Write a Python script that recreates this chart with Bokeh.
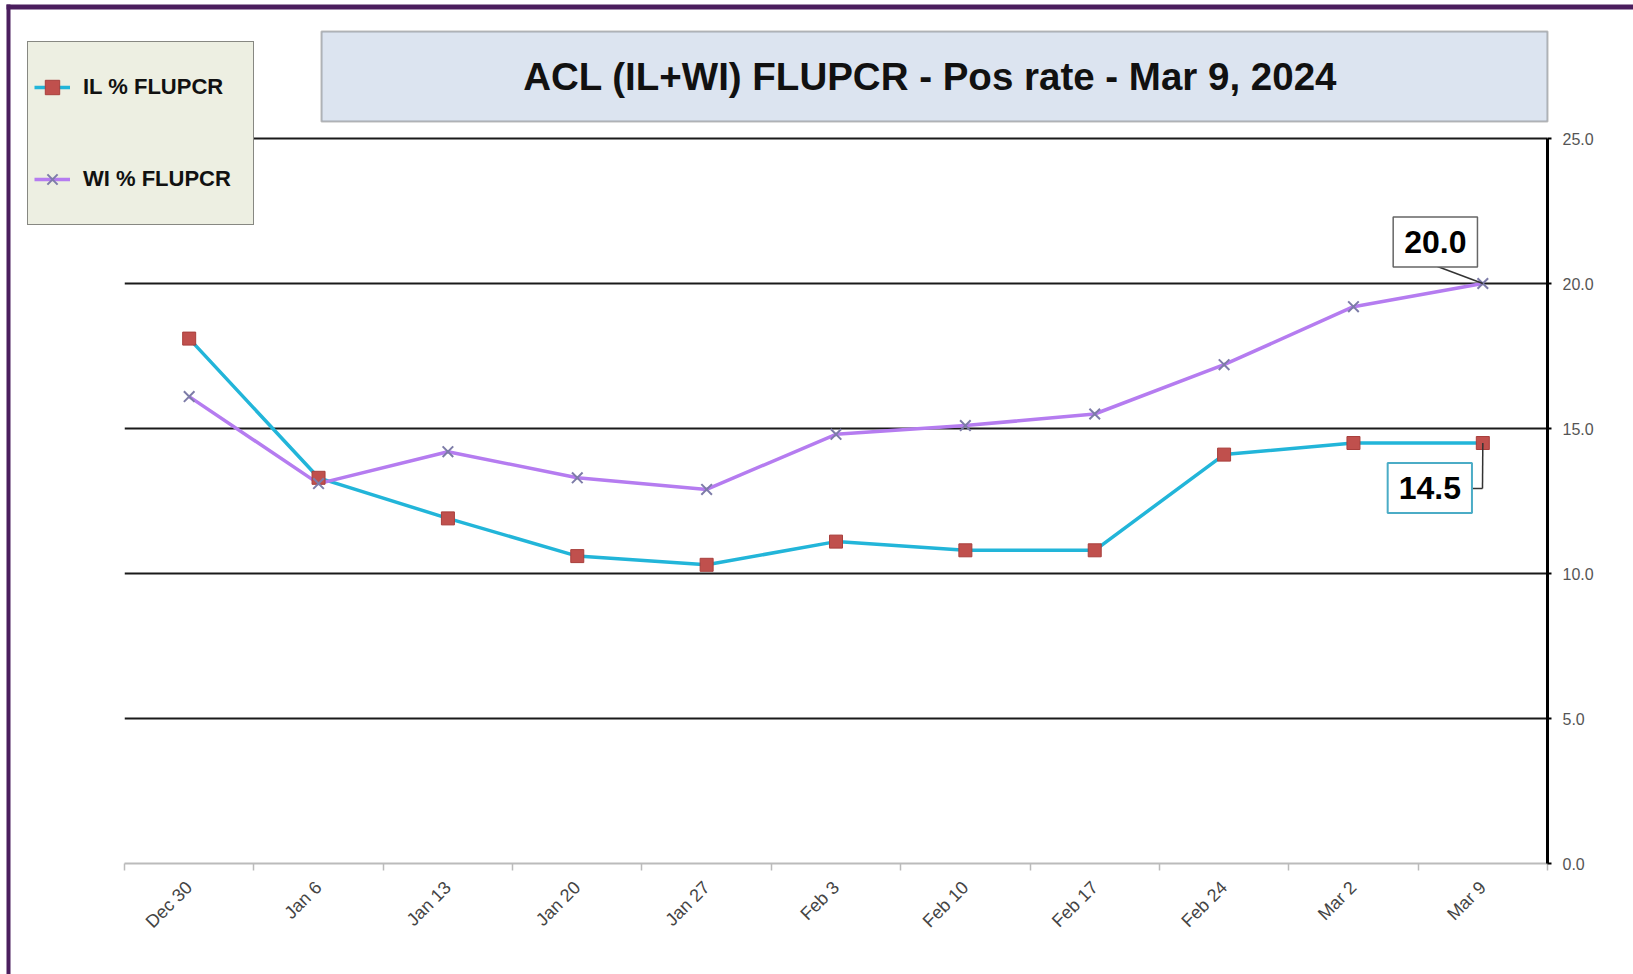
import math
from bokeh.plotting import figure
from bokeh.models import (FixedTicker, PrintfTickFormatter, Legend, LegendItem,
                          BoxAnnotation, Label, Arrow)
from bokeh.embed import file_html
from bokeh.resources import INLINE

# ---------------- data ----------------
categories = ["Dec 30", "Jan 6", "Jan 13", "Jan 20", "Jan 27", "Feb 3",
              "Feb 10", "Feb 17", "Feb 24", "Mar 2", "Mar 9"]
il_pos = [18.1, 13.3, 11.9, 10.6, 10.3, 11.1, 10.8, 10.8, 14.1, 14.5, 14.5]
wi_pos = [16.1, 13.1, 14.2, 13.3, 12.9, 14.8, 15.1, 15.5, 17.2, 19.2, 20.0]
y_ticks = [0, 5, 10, 15, 20, 25]
grid_ticks = [5, 10, 15, 20, 25]
series_names = ["IL % FLUPCR", "WI % FLUPCR"]
title_text = "ACL (IL+WI) FLUPCR -  Pos rate - Mar 9, 2024"

x_idx = list(range(len(categories)))

# ---------------- layout (canvas pixels) ----------------
W, H = 1633, 974
PLOT_L, PLOT_R = 124, 1547   # plotting area edges
PLOT_T, PLOT_B = 138, 863
FONT = "Liberation Sans"

Y_MAX = 25.0
X_MIN, X_MAX = -0.5, len(categories) - 0.5
px_x = (PLOT_R - PLOT_L) / (X_MAX - X_MIN)
px_y = (PLOT_B - PLOT_T) / Y_MAX
x_range = (X_MIN - PLOT_L / px_x, X_MAX + (W - PLOT_R) / px_x)
y_range = (-(H - PLOT_B) / px_y, Y_MAX + PLOT_T / px_y)

p = figure(width=W, height=H, output_backend="svg", toolbar_location=None, tools="",
           x_range=x_range, y_range=y_range, y_axis_location="right",
           min_border=0, min_border_left=0, min_border_right=0,
           min_border_top=0, min_border_bottom=0)
p.outline_line_color = None
p.background_fill_color = "white"
p.border_fill_color = "white"

# grid
p.xgrid.visible = False
p.ygrid.ticker = FixedTicker(ticks=grid_ticks)
p.ygrid.grid_line_color = "#1a1a1a"
p.ygrid.grid_line_width = 2
try:
    p.ygrid.cross_bounds = (X_MIN, X_MAX)
except Exception:
    pass

# x axis (at y = 0)
xa = p.xaxis[0]
xa.fixed_location = 0
xa.bounds = (X_MIN, X_MAX)
xa.ticker = FixedTicker(ticks=x_idx, minor_ticks=[i - 0.5 for i in range(len(categories) + 1)])
xa.major_label_overrides = {i: c for i, c in zip(x_idx, categories)}
xa.major_label_orientation = math.pi / 4
xa.major_label_text_font = FONT
xa.major_label_text_font_size = "18px"
xa.major_label_text_color = "#444444"
xa.major_label_standoff = 14
xa.major_tick_line_color = None
xa.major_tick_out = 0
xa.major_tick_in = 0
xa.minor_tick_out = 7
xa.minor_tick_in = 0
xa.minor_tick_line_color = "#bbbbbb"
xa.minor_tick_line_width = 1.5
xa.axis_line_color = "#bbbbbb"
xa.axis_line_width = 2

# y axis (right edge of the plotting area)
ya = p.yaxis[0]
ya.fixed_location = X_MAX
ya.bounds = (0, Y_MAX)
ya.ticker = FixedTicker(ticks=y_ticks, minor_ticks=[])
ya.formatter = PrintfTickFormatter(format="%.1f")
ya.axis_line_color = "black"
ya.axis_line_width = 3
ya.major_tick_line_color = "black"
ya.major_tick_line_width = 2
ya.major_tick_out = 4
ya.major_tick_in = 0
ya.minor_tick_line_color = None
ya.major_label_text_font = FONT
ya.major_label_text_font_size = "16px"
ya.major_label_text_color = "#555555"
ya.major_label_standoff = 11

# white masks outside the plotting area (keep grid lines inside the chart area)
p.add_layout(BoxAnnotation(right=X_MIN, fill_color="white", fill_alpha=1,
                           line_color=None, level="underlay"))
p.add_layout(BoxAnnotation(left=X_MAX, fill_color="white", fill_alpha=1,
                           line_color=None, level="underlay"))

# ---------------- series ----------------
il_line = p.line(x_idx, il_pos, line_color="#22b5d9", line_width=3.5)
wi_line = p.line(x_idx, wi_pos, line_color="#b57cf0", line_width=3.5)
il_pts = p.scatter(x_idx, il_pos, marker="square", size=13,
                   fill_color="#c0504d", line_color="#a83f3c", line_width=1)
wi_pts = p.scatter(x_idx, wi_pos, marker="x", size=15,
                   line_color="#7d7ca8", line_width=2)

# ---------------- decorations (screen units: origin at canvas bottom-left) ----------------
def scr_box(l, r, t, b, **kw):
    return BoxAnnotation(left=l, right=r, top=t, bottom=b,
                         left_units="screen", right_units="screen",
                         top_units="screen", bottom_units="screen", **kw)

# title box
p.add_layout(scr_box(321, 1547, H - 31, H - 121, fill_color="#dce4f0", fill_alpha=1,
                     line_color="#222222", line_width=2))
p.add_layout(Label(x=935, y=H - 76, x_units="screen", y_units="screen", text=title_text,
                   text_align="center", text_baseline="middle",
                   text_font=FONT, text_font_size="38.5px", text_font_style="bold",
                   text_color="#111111"))

# legend
legend = Legend(items=[LegendItem(label=series_names[0], renderers=[il_line, il_pts]),
                       LegendItem(label=series_names[1], renderers=[wi_line, wi_pts])],
                location=(27, H - 225), orientation="vertical",
                padding=6, margin=0, spacing=14,
                glyph_height=78, glyph_width=36, label_standoff=13, label_width=164,
                label_text_font=FONT, label_text_font_size="22px",
                label_text_font_style="bold", label_text_color="#111111",
                background_fill_color="#edefe2", background_fill_alpha=1,
                border_line_color="#222222", border_line_width=1.5)
p.add_layout(legend)

# data callouts for the last week
last = x_idx[-1]
p.add_layout(Arrow(start=None, end=None, x_start=1437, y_start=H - 266, start_units="screen",
                   x_end=last, y_end=wi_pos[-1], end_units="data",
                   line_color="#333333", line_width=1.5))
p.add_layout(Label(x=last, y=wi_pos[-1], x_offset=-47.5, y_offset=41.5,
                   text=f"{wi_pos[-1]:.1f}", text_align="center", text_baseline="middle",
                   text_font=FONT, text_font_size="32px", text_font_style="bold",
                   text_color="black", background_fill_color="white",
                   border_line_color="#666666", border_line_width=1.5, padding=(11, 14)))

p.add_layout(Arrow(start=None, end=None, x_start=1470, y_start=H - 488, start_units="screen",
                   x_end=1482, y_end=H - 488, end_units="screen",
                   line_color="#333333", line_width=1.5))
p.add_layout(Arrow(start=None, end=None, x_start=1482, y_start=H - 488, start_units="screen",
                   x_end=last, y_end=il_pos[-1], end_units="data",
                   line_color="#333333", line_width=1.5))
p.add_layout(Label(x=last, y=il_pos[-1], x_offset=-53, y_offset=-45,
                   text=f"{il_pos[-1]:.1f}", text_align="center", text_baseline="middle",
                   text_font=FONT, text_font_size="32px", text_font_style="bold",
                   text_color="black", background_fill_color="white",
                   border_line_color="#4bacc6", border_line_width=2, padding=(11, 14)))

# outer purple frame (left + top edges)
p.add_layout(scr_box(6, 10, H - 4, -5, fill_color="#4b1e5e", fill_alpha=1, line_color=None))
p.add_layout(scr_box(6, W + 5, H - 4, H - 9, fill_color="#4b1e5e", fill_alpha=1, line_color=None))

open("out.html", "w").write(file_html(p, INLINE))
